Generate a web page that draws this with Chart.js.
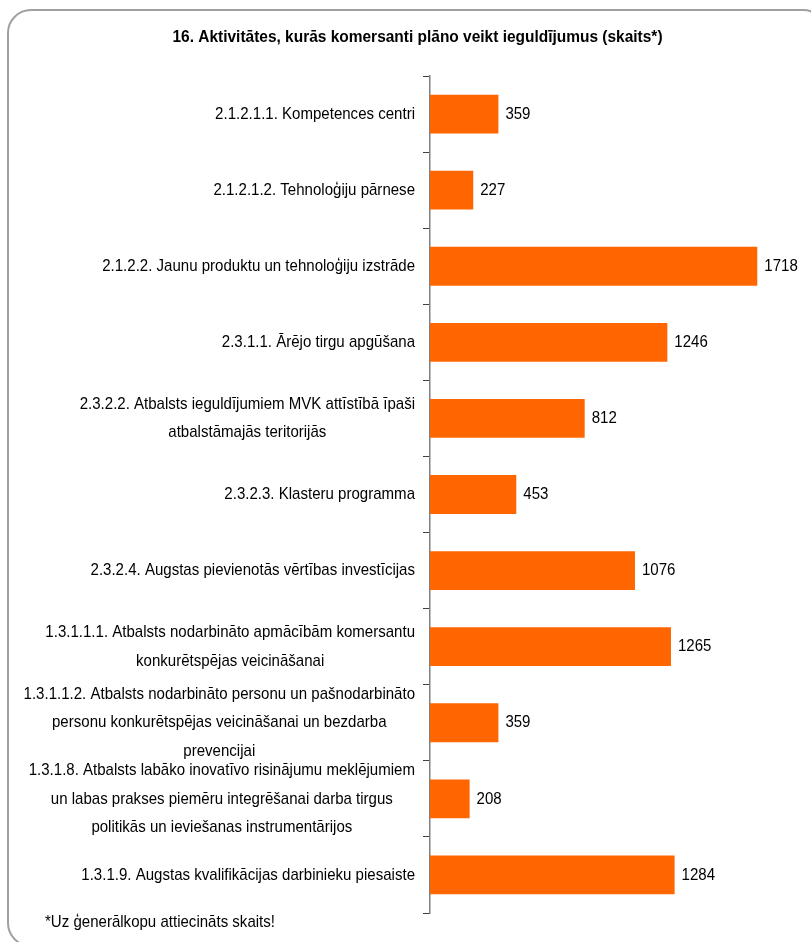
<!DOCTYPE html>
<html>
<head>
<meta charset="utf-8">
<script src="https://cdn.jsdelivr.net/npm/chart.js@4/dist/chart.umd.min.js"></script>
<style>
  html, body { margin: 0; padding: 0; background: #fff; overflow: hidden; }
  #wrap { position: relative; width: 811px; height: 942px; overflow: hidden; }
  #frame { position: absolute; left: 7px; top: 9px; width: 820px; height: 938px;
           border: 2px solid #a0a0a0; border-radius: 24px; box-sizing: border-box; }
  #c { position: absolute; left: 0; top: 0; }
</style>
</head>
<body>
<div id="wrap">
  <div id="frame"></div>
  <canvas id="c" width="811" height="942"></canvas>
</div>
<script>
const titleText = "16. Aktivitātes, kurās komersanti plāno veikt ieguldījumus (skaits*)";
const footnoteText = "*Uz ģenerālkopu attiecināts skaits!";
const categories = [
  ["2.1.2.1.1. Kompetences centri"],
  ["2.1.2.1.2. Tehnoloģiju pārnese"],
  ["2.1.2.2. Jaunu produktu un tehnoloģiju izstrāde"],
  ["2.3.1.1. Ārējo tirgu apgūšana"],
  ["2.3.2.2. Atbalsts ieguldījumiem MVK attīstībā īpaši", "atbalstāmajās teritorijās"],
  ["2.3.2.3. Klasteru programma"],
  ["2.3.2.4. Augstas pievienotās vērtības investīcijas"],
  ["1.3.1.1.1. Atbalsts nodarbināto apmācībām komersantu", "konkurētspējas veicināšanai"],
  ["1.3.1.1.2. Atbalsts nodarbināto personu un pašnodarbināto", "personu konkurētspējas veicināšanai un bezdarba", "prevencijai"],
  ["1.3.1.8. Atbalsts labāko inovatīvo risinājumu meklējumiem", "un labas prakses piemēru integrēšanai darba tirgus", "politikās un ieviešanas instrumentārijos"],
  ["1.3.1.9. Augstas kvalifikācijas darbinieku piesaiste"]
];
const values = [359, 227, 1718, 1246, 812, 453, 1076, 1265, 359, 208, 1284];
const xMax = 2000;

const FONT = '"Liberation Sans", Arial, sans-serif';
const SX = 0.885;   // horizontal condensing of the narrow typeface
const SX_TITLE = 0.91;

function narrowText(ctx, text, x, y, sx) {
  ctx.save();
  ctx.translate(x, y);
  ctx.scale(sx, 1);
  ctx.fillText(text, 0, 0);
  ctx.restore();
}

const textPlugin = {
  id: 'texts',
  afterDraw(chart) {
    const ctx = chart.ctx;
    const ys = chart.scales.y;
    const right = chart.chartArea.left - 15;
    const lh = 28.5;
    ctx.save();
    ctx.fillStyle = '#000';
    ctx.textBaseline = 'middle';
    // title
    ctx.font = 'bold 17px ' + FONT;
    ctx.textAlign = 'center';
    narrowText(ctx, titleText, 417.5, 37, SX_TITLE);
    // category labels
    ctx.font = '17px ' + FONT;
    ctx.textAlign = 'center';
    categories.forEach((lines, i) => {
      const yc = ys.getPixelForTick(i);
      const maxW = Math.max(...lines.map(l => ctx.measureText(l).width)) * SX;
      const cx = right - maxW / 2;
      const y0 = yc - (lines.length - 1) * lh / 2;
      lines.forEach((l, k) => narrowText(ctx, l, cx, y0 + k * lh, SX));
    });
    // footnote
    ctx.textAlign = 'left';
    narrowText(ctx, footnoteText, 45, 922, SX);
    ctx.restore();
  }
};

const valuePlugin = {
  id: 'valueLabels',
  afterDatasetsDraw(chart) {
    const ctx = chart.ctx;
    const meta = chart.getDatasetMeta(0);
    ctx.save();
    ctx.font = '17px ' + FONT;
    ctx.fillStyle = '#000';
    ctx.textBaseline = 'middle';
    ctx.textAlign = 'left';
    meta.data.forEach((bar, i) => {
      narrowText(ctx, String(values[i]), bar.x + 7, bar.y, SX);
    });
    ctx.restore();
  }
};

new Chart(document.getElementById('c'), {
  type: 'bar',
  data: {
    labels: categories,
    datasets: [{
      data: values,
      backgroundColor: '#FF6600',
      borderWidth: 0,
      barPercentage: 0.51,
      categoryPercentage: 1.0
    }]
  },
  options: {
    indexAxis: 'y',
    responsive: false,
    animation: false,
    events: [],
    layout: { padding: { top: 76, bottom: 29, left: 0, right: 0 } },
    plugins: {
      legend: { display: false },
      tooltip: { enabled: false },
      title: { display: false }
    },
    scales: {
      x: { display: false, min: 0, max: xMax },
      y: {
        afterFit(s) { s.width = 430; },
        ticks: { display: false },
        grid: { drawOnChartArea: false, drawTicks: true, tickLength: 7, color: '#404040', lineWidth: 1, offset: true },
        border: { display: true, color: '#808080', width: 1.5 }
      }
    }
  },
  plugins: [textPlugin, valuePlugin]
});
</script>
</body>
</html>
